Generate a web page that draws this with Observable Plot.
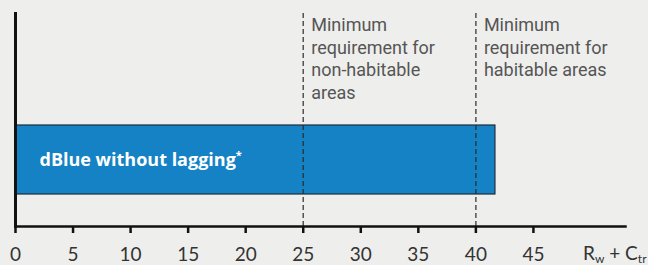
<!DOCTYPE html>
<html><head><meta charset="utf-8">
<script src="https://cdn.jsdelivr.net/npm/d3@7"></script>
<script src="https://cdn.jsdelivr.net/npm/@observablehq/plot@0.6"></script>
<style>
html,body{margin:0;padding:0;background:#eeeeec;}
#chart svg{display:block;background:#eeeeec;}
</style>
</head><body><div id="chart"></div>
<script>
const categories = ["dBlue without lagging"];
const values = [41.7];
const thresholds = [25, 40];
const thresholdLabels = [
  "Minimum\nrequirement for\nnon-habitable\nareas",
  "Minimum\nrequirement for\nhabitable areas"
];
const tickValues = [0, 5, 10, 15, 20, 25, 30, 35, 40, 45];
const xMax = 53;
const axisLabelParts = [["R", false], ["w", true], [" + C", false], ["tr", true]];

const bars = categories.map((c, i) => ({category: c, value: values[i]}));
const notes = thresholds.map((t, i) => ({value: t, label: thresholdLabels[i]}));
const axisLabel = axisLabelParts.map(d => d[0]).join("");

const svg = Plot.plot({
  width: 648,
  height: 265,
  marginLeft: 15,
  marginRight: 23,
  marginTop: 13,
  marginBottom: 39,
  style: {background: "#eeeeec", overflow: "visible"},
  x: {domain: [0, xMax]},
  y: {type: "band", domain: categories, range: [125, 194], padding: 0, axis: null},
  marks: [
    Plot.barX(bars, {x: "value", y: "category", fill: "#1482c4", stroke: "#1c2c3c", strokeWidth: 1.2}),
    Plot.text(bars, {x: 0, y: "category", text: "category", dx: 24, textAnchor: "start",
      fill: "white", fontWeight: "bold", fontSize: 18, fontFamily: "Open Sans"}),
    Plot.ruleX(thresholds, {stroke: "#2a2a2a", strokeOpacity: 0.8, strokeDasharray: "5,3", strokeWidth: 1.5}),
    Plot.text(notes, {x: "value", text: "label", frameAnchor: "top", textAnchor: "start", lineAnchor: "top",
      dx: 8, dy: 2, fontSize: 18, lineHeight: 1.25, fill: "#555", fontFamily: "Roboto"}),
    Plot.axisX({ticks: tickValues, tickSize: 7, tickPadding: 14, strokeWidth: 2.5, stroke: "#111",
      fontSize: 19, fontFamily: "Lato", fill: "#333", label: null}),
    Plot.frame({anchor: "bottom", stroke: "#111", strokeWidth: 2.5}),
    Plot.frame({anchor: "left", stroke: "#111", strokeWidth: 3}),
    Plot.text([axisLabel], {x: xMax, frameAnchor: "bottom", lineAnchor: "bottom", textAnchor: "end",
      dx: 21, dy: 33, text: d => d, fontSize: 19, fontFamily: "Lato", fill: "#333"})
  ]
});

const sel = d3.select(svg);
sel.selectAll("text").filter(function() { return this.textContent === axisLabel; }).each(function() {
  const t = d3.select(this);
  t.text(null);
  for (const [s, sub] of axisLabelParts) {
    const sp = t.append("tspan").text(s);
    if (sub) sp.attr("font-size", 12).attr("baseline-shift", "-25%");
  }
});
sel.selectAll("text").filter(function() { return this.textContent === categories[0]; }).each(function() {
  d3.select(this).append("tspan").text("*").attr("font-size", 11).attr("baseline-shift", "60%");
});
document.getElementById("chart").appendChild(svg);
</script>
</body></html>
